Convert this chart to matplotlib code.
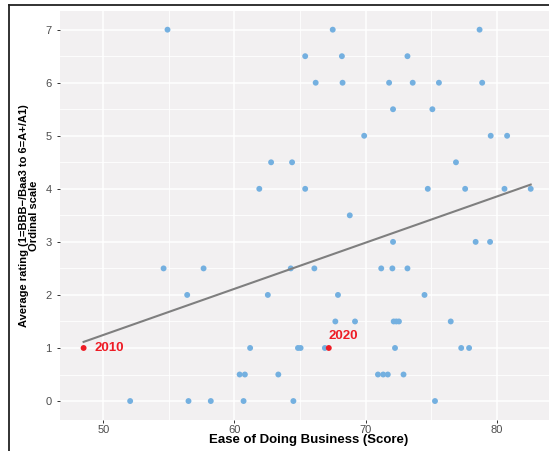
import numpy as np
import matplotlib
matplotlib.use("Agg")
import matplotlib.pyplot as plt
from matplotlib.lines import Line2D

plt.rcParams["font.family"] = ["Liberation Sans", "DejaVu Sans"]

# scores (x) and average rating (y), read by rating level
score = [54.9, 67.5, 78.7,
         65.4, 68.2, 73.2,
         66.2, 68.25, 71.8, 73.6, 75.6, 78.9,
         72.1, 75.1,
         69.9, 79.55, 80.8,
         62.8, 64.4, 76.9,
         61.9, 65.4, 74.75, 77.6, 80.6, 82.6,
         68.8,
         72.1, 78.4, 79.5,
         54.6, 57.65, 64.3, 66.1, 71.2, 72.05, 73.2,
         56.4, 62.55, 67.9, 74.5,
         67.7, 69.2, 72.15, 72.35, 72.55, 76.5,
         61.2, 64.85, 65.05, 66.9, 72.25, 77.3, 77.9,
         60.4, 60.8, 63.35, 70.95, 71.35, 71.7, 72.9,
         52.05, 56.5, 58.2, 60.7, 64.5, 75.3]
rating = [7] * 3 + [6.5] * 3 + [6] * 6 + [5.5] * 2 + [5] * 3 + [4.5] * 3 + \
         [4] * 6 + [3.5] + [3] * 3 + [2.5] * 7 + [2] * 4 + [1.5] * 6 + \
         [1] * 7 + [0.5] * 7 + [0] * 6

# highlighted years
years = ["2010", "2020"]
year_score = [48.5, 67.2]
year_rating = [1, 1]

x_ticks = [50, 60, 70, 80]
y_ticks = [0, 1, 2, 3, 4, 5, 6, 7]

blue = "#74b0e0"
red = "#ee1c25"

fig = plt.figure(figsize=(5.49, 4.51), dpi=100)
ax = fig.add_axes([60 / 549, 1 - 419.6 / 451, 493 / 549, 408.5 / 451])
ax.set_facecolor("#f2f0f1")

all_x = np.array(score + year_score)
all_y = np.array(rating + year_rating)
ax.set_xlim(46.7, 84.3)
ax.set_ylim(-0.35, 7.35)

# grid like ggplot (major + minor)
for v in np.arange(45, 86, 5):
    ax.axvline(v, color="white", lw=1.1 if v % 10 == 0 else 0.6, zorder=0)
for v in np.arange(0, 7.5, 0.5):
    ax.axhline(v, color="white", lw=1.1 if v % 1 == 0 else 0.6, zorder=0)

ax.scatter(score, rating, s=18, color=blue, edgecolors="none", zorder=2)
ax.scatter(year_score, year_rating, s=18, color=red, edgecolors="none", zorder=3)

# linear fit
k, b = np.polyfit(all_x, all_y, 1)
xs = np.array([all_x.min(), all_x.max()])
ax.plot(xs, k * xs + b, color="#7f7f7f", lw=1.5, zorder=2)

ax.text(year_score[0] + 0.8, year_rating[0], years[0], color=red,
        fontsize=9.5, fontweight="bold", va="center", ha="left")
ax.text(year_score[1] + 1.1, year_rating[1] + 0.22, years[1], color=red,
        fontsize=9.5, fontweight="bold", va="center", ha="center")

ax.set_xticks(x_ticks)
ax.set_yticks(y_ticks)
ax.tick_params(colors="#333333", labelcolor="#4d4d4d", labelsize=8,
               length=2.5, width=0.7)
ax.tick_params(axis="x", pad=1.5)
for s in ax.spines.values():
    s.set_visible(False)

ax.set_xlabel("Ease of Doing Business (Score)", fontsize=9.5,
              fontweight="bold", va="center")
ax.set_ylabel("Average rating (1=BBB\u2212/Baa3 to 6=A+/A1)\nOrdinal scale",
              fontsize=8, fontweight="bold", linespacing=1.1)
ax.xaxis.set_label_coords((309 - 60) / 493, -(440 - 419.6) / 408.5)
ax.yaxis.set_label_coords(-(60 - 29) / 493, 0.5)
ax.yaxis.label.set_va("center")

# frame around the figure
fig.add_artist(Line2D([9 / 549, 1], [1 - 5 / 451, 1 - 5 / 451],
                      color="#222222", lw=1.3, transform=fig.transFigure))
fig.add_artist(Line2D([9 / 549, 9 / 549], [0, 1 - 5 / 451],
                      color="#222222", lw=1.3, transform=fig.transFigure))

fig.savefig("out.png", dpi=100, facecolor="white")
